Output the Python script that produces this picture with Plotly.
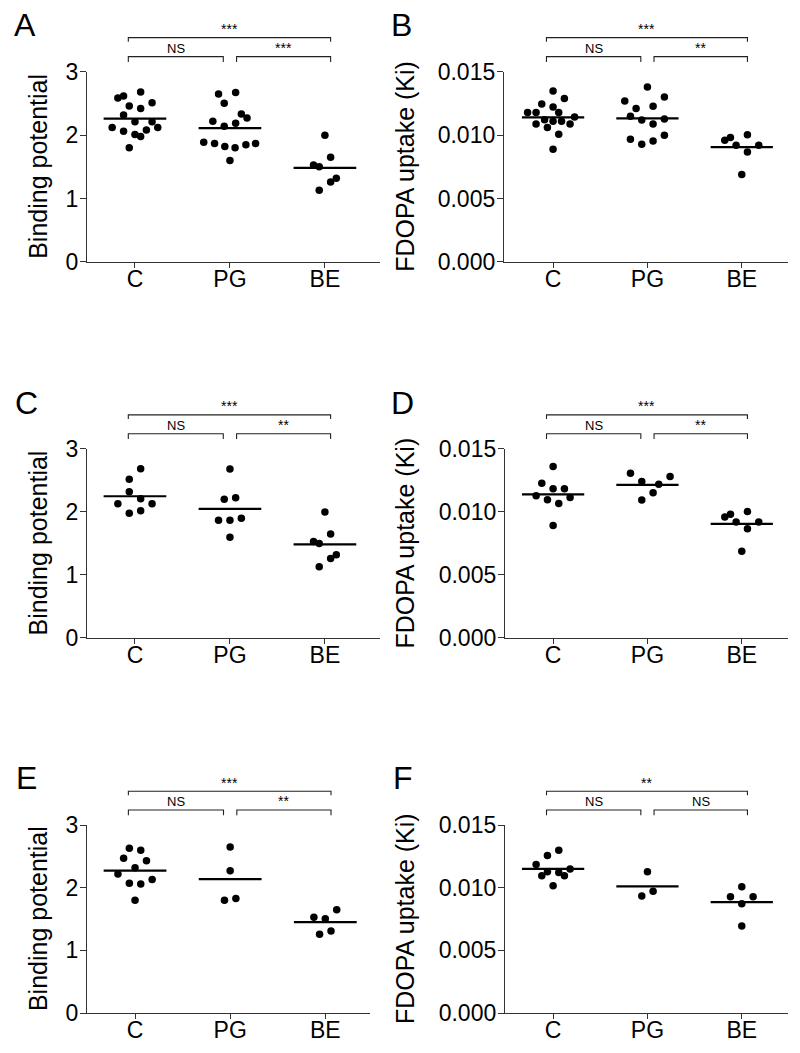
import plotly.graph_objects as go

categories = ["C", "PG", "BE"]

# ---------- Panel A: binding potential ----------
A_C = [2.585, 2.62, 2.68, 2.46, 2.42, 2.51, 2.32, 2.21, 2.21, 2.12, 2.06, 2.01, 1.98, 2.08, 2.12, 1.80]
A_C_off = [-3, -2, 1, -1, 1, 3, -2, 0, 3, -4, -2, 0, 1, 2, 4, -1]
A_PG = [2.65, 2.675, 2.505, 2.335, 2.27, 2.22, 2.14, 2.19, 1.89, 1.87, 1.82, 1.80, 1.85, 1.87, 1.60]
A_PG_off = [-2, 1, -1, 2, 3, -3, -1, 1, -4.6, -2.7, -0.9, 0.9, 2.8, 4.5, 0]
A_BE = [2.00, 1.65, 1.53, 1.50, 1.32, 1.26, 1.13]
A_BE_off = [0, 1, -2, -1, 2, 1, -1]

# ---------- Panel B: FDOPA uptake ----------
B_C = [0.01348, 0.0129, 0.01247, 0.01223, 0.01178, 0.01178, 0.01178, 0.01122,
       0.01109, 0.01109, 0.01144, 0.01088, 0.01088, 0.01061, 0.01008, 0.00888]
B_C_off = [0, 2, -2, 0, -4.5, -3, 1, -1.5, 0, 1.5, 3.8, -3, 3, -1, 1, 0]
B_PG = [0.0138, 0.01269, 0.01301, 0.0121, 0.01229, 0.01149, 0.0112, 0.01128,
        0.01088, 0.00968, 0.00928, 0.00955, 0.0100]
B_PG_off = [0, -4, 3, -2, 1, -3, -1, 3, 1, -3, -1, 1, 3]
B_BE = [0.0096, 0.00981, 0.01003, 0.0092, 0.0092, 0.00867, 0.00689]
B_BE_off = [-3, -2, 1, -1, 3, 1, 0]

# ---------- Panel C ----------
C_C = [2.685, 2.52, 2.32, 2.21, 2.13, 2.13, 1.98, 2.02]
C_C_off = [1, -1, -1, 1, -3, 3, -1, 1]
C_PG = [2.68, 2.20, 2.225, 1.87, 1.87, 1.90, 1.60]
C_PG_off = [0, -1, 1, -2, 0, 2, 0]
C_BE = [2.00, 1.65, 1.53, 1.50, 1.32, 1.26, 1.13]
C_BE_off = [0, 1, -2, -1, 2, 1, -1]

# ---------- Panel D ----------
D_C = [0.01361, 0.01227, 0.01184, 0.01184, 0.01128, 0.01096, 0.01067, 0.01115, 0.00893]
D_C_off = [0, -2, 0, 2, -3, -1, 1, 3, 0]
D_PG = [0.01307, 0.01241, 0.01281, 0.01219, 0.01152, 0.01094]
D_PG_off = [-3, -1, 4, 2, 1, -1]
D_BE = [0.0096, 0.00981, 0.01003, 0.0092, 0.0092, 0.00867, 0.00689]
D_BE_off = [-3, -2, 1, -1, 3, 1, 0]

# ---------- Panel E ----------
E_C = [2.63, 2.60, 2.47, 2.43, 2.32, 2.22, 2.07, 2.06, 2.13, 1.80]
E_C_off = [-1, 1, -2, 2, 0, -3, -1, 1, 3, 0]
E_PG = [2.65, 2.27, 1.80, 1.83]
E_PG_off = [0, 0, -1, 1]
E_BE = [1.65, 1.53, 1.505, 1.31, 1.26]
E_BE_off = [2, -2, 0, 1, -1]

# ---------- Panel F ----------
F_C = [0.013, 0.01258, 0.01186, 0.01128, 0.01122, 0.01149, 0.01096, 0.01096, 0.01016]
F_C_off = [1, -1, -3, -1, 1, 3, -2, 2, 0]
F_PG = [0.01128, 0.00973, 0.00934]
F_PG_off = [0, 1, -1]
F_BE = [0.01008, 0.00928, 0.00928, 0.00872, 0.00694]
F_BE_off = [0, -2, 2, 0, 0]

# significance labels: [C vs PG, PG vs BE, C vs BE]
sig_A = ["NS", "***", "***"]
sig_B = ["NS", "**", "***"]
sig_C = ["NS", "**", "***"]
sig_D = ["NS", "**", "***"]
sig_E = ["NS", "**", "***"]
sig_F = ["NS", "NS", "**"]

bp_title = "Binding potential"
ki_title = "FDOPA uptake (Ki)"
bp_ticks = [0, 1, 2, 3]
bp_ticktext = ["0", "1", "2", "3"]
ki_ticks = [0, 0.005, 0.010, 0.015]
ki_ticktext = ["0.000", "0.005", "0.010", "0.015"]

FONT = "Liberation Sans, Arial, Helvetica, sans-serif"
W, H = 800, 1053
STEP = 0.06
AXC = "#333333"

# vertical placement correction measured on the rendered page
def ry(y):
    return (y - 13.2) / 0.975

def px_dom_x(a, b):
    return [a / W, b / W]

def px_dom_y(top, bottom):
    return [1 - ry(bottom) / H, 1 - ry(top) / H]

panels = [
    dict(letter="A", vals=[A_C, A_PG, A_BE], offs=[A_C_off, A_PG_off, A_BE_off], kind="bp", sig=sig_A,
         xd=(87, 380), yd=(72, 262), xr=[-0.505, 2.58], lx=12, ly=15, tx=38),
    dict(letter="B", vals=[B_C, B_PG, B_BE], offs=[B_C_off, B_PG_off, B_BE_off], kind="ki", sig=sig_B,
         xd=(504, 788), yd=(72, 262), xr=[-0.52, 2.49], lx=389, ly=15, tx=405),
    dict(letter="C", vals=[C_C, C_PG, C_BE], offs=[C_C_off, C_PG_off, C_BE_off], kind="bp", sig=sig_C,
         xd=(87, 380), yd=(449, 638), xr=[-0.505, 2.58], lx=13, ly=393, tx=38),
    dict(letter="D", vals=[D_C, D_PG, D_BE], offs=[D_C_off, D_PG_off, D_BE_off], kind="ki", sig=sig_D,
         xd=(505, 788), yd=(449, 638), xr=[-0.51, 2.49], lx=389, ly=393, tx=405),
    dict(letter="E", vals=[E_C, E_PG, E_BE], offs=[E_C_off, E_PG_off, E_BE_off], kind="bp", sig=sig_E,
         xd=(87, 370), yd=(825, 1013), xr=[-0.505, 2.47], lx=14, ly=768, tx=38),
    dict(letter="F", vals=[F_C, F_PG, F_BE], offs=[F_C_off, F_PG_off, F_BE_off], kind="ki", sig=sig_F,
         xd=(505, 788), yd=(825, 1013), xr=[-0.51, 2.49], lx=391, ly=768, tx=405),
]

fig = go.Figure()
shapes = []
annotations = []
layout = {}

for i, p in enumerate(panels):
    sfx = "" if i == 0 else str(i + 1)
    xa, ya = "x" + sfx, "y" + sfx
    for gi, (v, o) in enumerate(zip(p["vals"], p["offs"])):
        fig.add_trace(go.Scatter(
            x=[gi + STEP * k for k in o], y=v, mode="markers",
            marker=dict(color="black", size=7.5, line=dict(width=0)),
            xaxis=xa, yaxis=ya, showlegend=False, hoverinfo="skip"))
        m = sum(v) / len(v)
        fig.add_trace(go.Scatter(
            x=[gi - 0.33, gi + 0.33], y=[m, m], mode="lines",
            line=dict(color="black", width=2.2),
            xaxis=xa, yaxis=ya, showlegend=False, hoverinfo="skip"))

    if p["kind"] == "bp":
        yr, tv, tt, title = [0, 3], bp_ticks, bp_ticktext, bp_title
    else:
        yr, tv, tt, title = [0, 0.015], ki_ticks, ki_ticktext, ki_title

    layout["xaxis" + sfx] = dict(
        domain=px_dom_x(*p["xd"]), range=p["xr"], anchor=ya,
        tickvals=[0, 1, 2], ticktext=categories, ticks="outside", ticklen=5,
        tickwidth=1.3, tickcolor=AXC, showline=True, linecolor=AXC, linewidth=1.3,
        showgrid=False, zeroline=False, fixedrange=True, ticklabelstandoff=-9,
        tickfont=dict(family=FONT, size=23, color="black"))
    layout["yaxis" + sfx] = dict(
        domain=px_dom_y(*p["yd"]), range=yr, anchor=xa,
        tickvals=tv, ticktext=tt, ticks="outside", ticklen=6,
        tickwidth=1.3, tickcolor=AXC, showline=True, linecolor=AXC, linewidth=1.3,
        showgrid=False, zeroline=False, fixedrange=True, ticklabelstandoff=-3,
        tickfont=dict(family=FONT, size=23, color="black"))

    yd = ya + " domain"
    brs = [(-0.07, 0.93, 1.08, 1.052, p["sig"][0], 1.074),
           (1.07, 2.06, 1.08, 1.052, p["sig"][1], 1.074),
           (-0.07, 2.06, 1.18, 1.158, p["sig"][2], 1.172)]
    for x0, x1, yl, yt, lab, ly in brs:
        shapes.append(dict(type="path", xref=xa, yref=yd,
                           path=f"M {x0},{yt} L {x0},{yl} L {x1},{yl} L {x1},{yt}",
                           line=dict(color="#222222", width=1.1)))
        fsz = 13 if lab == "NS" else 14
        annotations.append(dict(xref=xa, yref=yd, x=(x0 + x1) / 2, y=ly, text=lab,
                                showarrow=False, yanchor="bottom",
                                font=dict(family=FONT, size=fsz, color="black")))
    annotations.append(dict(xref="paper", yref=ya + " domain", x=p["tx"] / W, y=0.5,
                            text=title, textangle=-90, showarrow=False,
                            xanchor="center", yanchor="middle",
                            font=dict(family=FONT, size=25, color="black")))
    annotations.append(dict(xref="paper", yref="paper", x=p["lx"] / W,
                            y=1 - (ry(p["ly"]) - 10) / H,
                            text=p["letter"], showarrow=False, xanchor="left", yanchor="top",
                            font=dict(family=FONT, size=32, color="black")))

fig.update_layout(
    width=W, height=H, margin=dict(l=0, r=0, t=0, b=0),
    paper_bgcolor="white", plot_bgcolor="white",
    shapes=shapes, annotations=annotations, **layout)

fig.write_html("out.html", config={"displayModeBar": False},
               post_script="document.body.style.margin='0';document.body.style.overflow='hidden';")
